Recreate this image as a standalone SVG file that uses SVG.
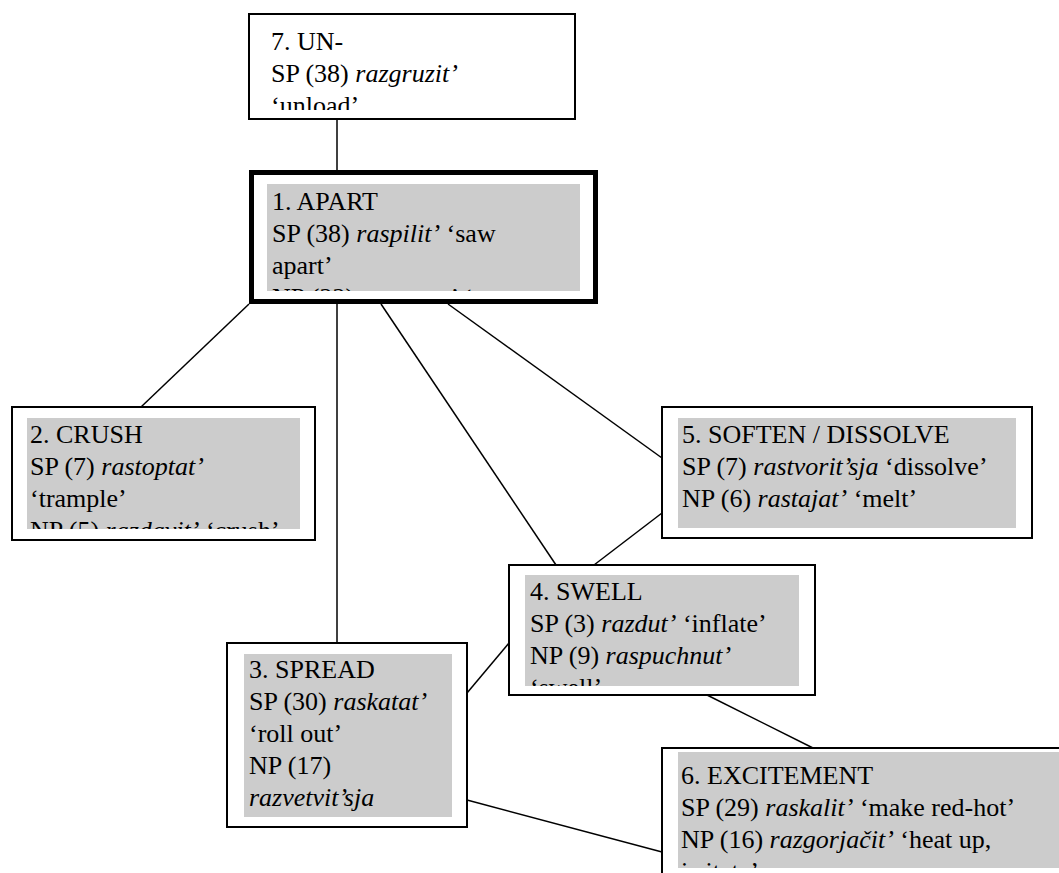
<svg xmlns="http://www.w3.org/2000/svg" width="1059" height="873" viewBox="0 0 1059 873">
<style>
.box{fill:#ffffff;stroke:#000;stroke-width:2}
.thick{fill:#ffffff;stroke:#000;stroke-width:5}
.grey{fill:#cccccc}
.t{font-family:"Liberation Serif","Times New Roman",serif;font-size:26px;fill:#000}
.i{font-style:italic}
.con line{stroke:#000;stroke-width:1.5}
</style>
<defs>
<clipPath id="c7"><rect x="260" y="20" width="305" height="90"/></clipPath>
<clipPath id="c1"><rect x="267" y="184" width="313" height="107"/></clipPath>
<clipPath id="c2"><rect x="27" y="418" width="273" height="111"/></clipPath>
<clipPath id="c5"><rect x="678" y="418" width="338" height="110"/></clipPath>
<clipPath id="c4"><rect x="525" y="575" width="274" height="111"/></clipPath>
<clipPath id="c3"><rect x="244" y="654" width="208" height="163"/></clipPath>
<clipPath id="c6"><rect x="678" y="752" width="400" height="116"/></clipPath>
</defs>
<rect width="1059" height="873" fill="#ffffff"/>
<g class="con" id="connectors">
<line x1="337" y1="119" x2="337" y2="170"/>
<line x1="249" y1="304" x2="141" y2="407"/>
<line x1="337" y1="304" x2="337" y2="643"/>
<line x1="381" y1="304" x2="556" y2="565"/>
<line x1="448" y1="304" x2="662" y2="458"/>
<line x1="662" y1="513" x2="594" y2="565"/>
<line x1="509" y1="643" x2="467" y2="693"/>
<line x1="707" y1="695" x2="813" y2="748"/>
<line x1="467" y1="800" x2="662" y2="852"/>
</g>
<g id="node7">
<rect class="box" x="249" y="14" width="326" height="105"/>
<g clip-path="url(#c7)">
<text class="t" x="271" y="50">7. UN-</text>
<text class="t" x="271" y="82">SP (38) <tspan class="i">razgruzit’</tspan></text>
<text class="t" x="271" y="114">‘unload’</text>
</g>
</g>
<g id="node1">
<rect class="thick" x="251.5" y="172.5" width="344" height="129"/>
<rect class="grey" x="267" y="184" width="313" height="107"/>
<g clip-path="url(#c1)">
<text class="t" x="272" y="210">1. APART</text>
<text class="t" x="272" y="242">SP (38) <tspan class="i">raspilit’</tspan> ‘saw</text>
<text class="t" x="272" y="274">apart’</text>
<text class="t" x="272" y="306">NP (22) <tspan class="i">razorvat’</tspan> ‘</text>
</g>
</g>
<g id="node2">
<rect class="box" x="12" y="407" width="303" height="133"/>
<rect class="grey" x="27" y="418" width="273" height="111"/>
<g clip-path="url(#c2)">
<text class="t" x="30" y="443">2. CRUSH</text>
<text class="t" x="30" y="475">SP (7) <tspan class="i">rastoptat’</tspan></text>
<text class="t" x="30" y="507">‘trample’</text>
<text class="t" x="30" y="539">NP (5) <tspan class="i">razdavit’</tspan> ‘crush’</text>
</g>
</g>
<g id="node5">
<rect class="box" x="662" y="407" width="370" height="131"/>
<rect class="grey" x="678" y="418" width="338" height="110"/>
<g clip-path="url(#c5)">
<text class="t" x="682" y="443">5. SOFTEN / DISSOLVE</text>
<text class="t" x="682" y="475">SP (7) <tspan class="i">rastvorit’sja</tspan> ‘dissolve’</text>
<text class="t" x="682" y="507">NP (6) <tspan class="i">rastajat’</tspan> ‘melt’</text>
</g>
</g>
<g id="node4">
<rect class="box" x="509" y="565" width="306" height="130"/>
<rect class="grey" x="525" y="575" width="274" height="111"/>
<g clip-path="url(#c4)">
<text class="t" x="530" y="600">4. SWELL</text>
<text class="t" x="530" y="632">SP (3) <tspan class="i">razdut’</tspan> ‘inflate’</text>
<text class="t" x="530" y="664">NP (9) <tspan class="i">raspuchnut’</tspan></text>
<text class="t" x="530" y="696">‘swell’</text>
</g>
</g>
<g id="node3">
<rect class="box" x="227" y="643" width="240" height="184"/>
<rect class="grey" x="244" y="654" width="208" height="163"/>
<g clip-path="url(#c3)">
<text class="t" x="249" y="678">3. SPREAD</text>
<text class="t" x="249" y="710">SP (30) <tspan class="i">raskatat’</tspan></text>
<text class="t" x="249" y="742">‘roll out’</text>
<text class="t" x="249" y="774">NP (17)</text>
<text class="t i" x="249" y="806">razvetvit’sja</text>
</g>
</g>
<g id="node6">
<rect class="box" x="662" y="748" width="420" height="140"/>
<rect class="grey" x="678" y="752" width="400" height="116"/>
<g clip-path="url(#c6)">
<text class="t" x="681" y="784">6. EXCITEMENT</text>
<text class="t" x="681" y="816">SP (29) <tspan class="i">raskalit’</tspan> ‘make red-hot’</text>
<text class="t" x="681" y="848">NP (16) <tspan class="i">razgorjačit’</tspan> ‘heat up,</text>
<text class="t" x="681" y="880">irritate’</text>
</g>
</g>
</svg>
